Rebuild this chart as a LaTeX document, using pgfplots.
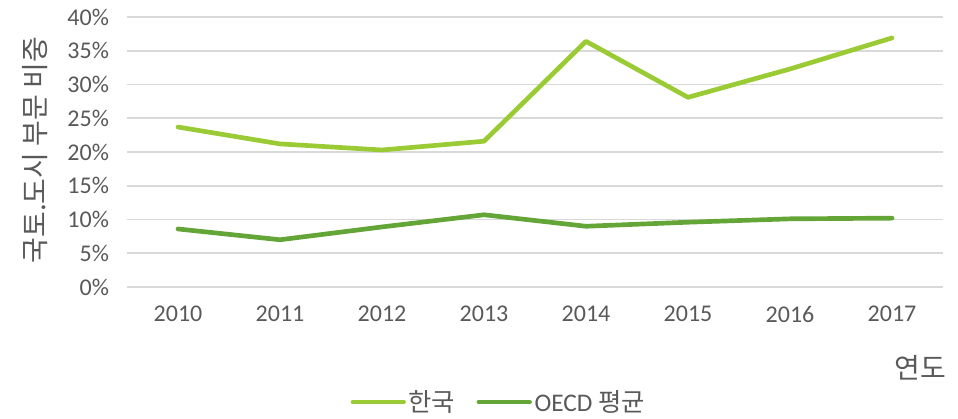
\documentclass[border=0pt]{standalone}
\usepackage{fontspec}
\setmainfont{Carlito}
\newfontfamily\kr{Noto Sans CJK KR}
\usepackage{pgfplots}
\pgfplotsset{compat=1.18}
\definecolor{kor}{RGB}{154,203,52}
\definecolor{oecd}{RGB}{99,165,55}
\definecolor{txt}{RGB}{89,89,89}
\definecolor{grd}{RGB}{217,217,217}
\begin{document}
\begin{tikzpicture}
\begin{axis}[
  scale only axis,
  width=612pt, height=202.5pt,
  xmin=-0.5, xmax=7.5, ymin=0, ymax=40,
  xtick={0,...,7},
  xticklabels={2010,2011,2012,2013,2014,2015,2016,2017},
  ytick={0,5,...,40},
  yticklabel={\pgfmathprintnumber{\tick}\%},
  /pgf/number format/assume math mode=true,
  ymajorgrids, grid style={grd, line width=1.2pt},
  axis line style={draw=none},
  axis x line*=bottom,
  major tick length=0pt,
  tick label style={font=\fontsize{18}{20}\selectfont, text=txt},
  xticklabel style={yshift=-11pt},
  yticklabel style={xshift=-10pt},
  xlabel={\kr 연도},
  xlabel style={at={(axis description cs:0.972,-0.30)}, anchor=center, font=\fontsize{21}{24}\selectfont, text=txt},
  ylabel={\kr 국토.도시 부문 비중},
  ylabel style={at={(axis description cs:-0.113,0.507)}, anchor=center, rotate=0, font=\fontsize{21}{24}\selectfont, text=txt},
  legend columns=2,
  legend style={at={(axis description cs:0.456,-0.426)}, anchor=center, draw=none, font=\fontsize{19}{22}\selectfont, text=txt,
    /tikz/every even column/.append style={column sep=14pt},
    /tikz/every odd column/.append style={inner sep=1pt}},
  legend image code/.code={\draw[#1, line width=3.5pt, line cap=round] (0pt,0pt) -- (38pt,0pt);},
]
\draw[grd, line width=1.2pt] (axis cs:-0.5,0) -- (axis cs:7.5,0);
\addplot[kor, line width=3.5pt, line cap=round, line join=round] coordinates {
(0,23.7) (1,21.2) (2,20.3) (3,21.6) (4,36.4) (5,28.1) (6,32.3) (7,36.9)};
\addlegendentry{\kr 한국}
\addplot[oecd, line width=3.5pt, line cap=round, line join=round] coordinates {
(0,8.6) (1,7.0) (2,8.9) (3,10.7) (4,9.0) (5,9.6) (6,10.1) (7,10.2)};
\addlegendentry{OECD {\kr 평균}}
\end{axis}
\path (current axis.south west) ++(-95.25pt,-96.75pt) rectangle ++(718.5pt,312pt);
\end{tikzpicture}
\end{document}
